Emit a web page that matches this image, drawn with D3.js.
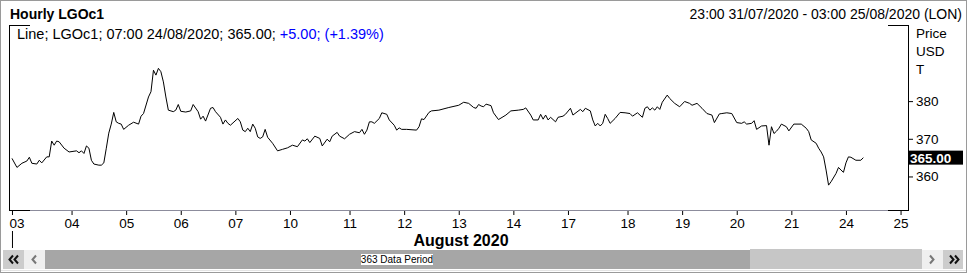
<!DOCTYPE html>
<html>
<head>
<meta charset="utf-8">
<script src="https://cdn.jsdelivr.net/npm/d3@7"></script>
<style>
  body { margin: 0; background: #fff; }
  svg { display: block; font-family: "Liberation Sans", Arial, sans-serif; }
</style>
</head>
<body>
<div id="chart"></div>
<script>
// data: hour index (trading hours from 23:00 31/07) and close price
var hours = [0,2,4,6,7,8,10,11,12,14,15,16,17,18,19,21,23,25,26,27,28,29,30,31,32,33,35,36,37,38,39,40,41,42,43,44,45,47,49,51,52,53,55,56,57,58,59,60,61,62,63,65,66,67,68,70,72,73,75,76,77,78,80,81,82,84,85,86,87,88,91,92,93,94,95,96,97,98,99,100,101,102,103,105,107,109,111,113,115,117,118,119,120,122,124,125,127,128,129,131,132,134,136,138,140,141,142,143,144,145,146,148,149,151,152,154,155,156,157,159,163,164,165,166,168,169,172,176,180,182,184,186,187,188,189,190,191,193,194,196,199,201,204,206,207,209,210,212,213,214,215,216,217,219,220,222,223,225,226,229,230,231,233,234,235,236,237,238,239,240,241,243,245,247,249,250,252,254,255,256,257,258,259,260,261,262,264,265,267,269,271,273,274,276,278,280,282,283,285,286,288,290,292,294,295,296,298,299,300,302,304,305,306,307,308,309,310,312,313,315,318,320,321,322,324,325,326,327,328,329,330,332,333,334,335,336,337,338,340,342,343];
var prices = [364.8,362.4,363.5,364.1,365.1,363.5,363.3,364.3,363.6,365.2,365.2,369.4,368.3,369.4,369.2,367.5,366.5,366.7,366.8,366.3,366.8,366.1,368.1,367.5,364.3,363.3,363.0,363.0,363.6,367.5,371.5,373.9,377.0,374.5,374.1,373.9,372.5,373.6,374.4,373.9,376.0,376.7,381.1,382.5,388.2,386.9,388.7,387.8,385.1,381.1,377.6,377.2,377.6,379.1,377.3,377.1,377.4,379.1,377.2,375.2,376.0,374.7,378.1,378.3,377.2,375.7,373.9,375.0,374.1,373.6,375.4,374.5,372.3,371.9,372.8,371.9,373.9,372.8,370.5,370.1,370.5,372.5,370.4,368.8,366.8,367.2,367.6,368.3,367.9,369.7,369.4,370.0,369.0,370.7,370.1,368.1,369.9,369.2,370.7,371.7,370.7,370.0,371.2,371.9,371.6,372.5,371.2,372.3,374.5,374.5,374.1,375.4,376.9,376.5,375.0,373.6,372.3,372.9,372.5,372.5,372.3,373.2,375.3,375.1,377.0,377.4,377.6,378.3,378.9,379.7,379.4,378.3,378.1,379.1,378.7,378.5,379.2,378.8,376.9,375.1,376.3,377.4,377.6,377.8,378.2,376.3,375.0,375.0,376.5,375.2,376.3,375.0,375.7,374.5,375.7,376.0,376.5,378.1,376.3,377.8,377.2,378.1,377.4,375.0,373.4,374.1,373.4,374.1,376.5,375.4,374.1,375.4,377.0,376.9,376.7,376.0,376.9,375.7,378.1,378.5,377.6,378.2,377.6,378.5,377.8,379.7,381.6,380.7,379.4,378.5,379.9,379.4,378.9,379.4,378.1,376.7,376.3,374.3,376.6,376.7,376.9,376.7,374.3,374.1,374.5,373.9,374.1,374.8,372.5,373.4,373.5,368.3,373.2,371.4,372.0,372.8,373.9,373.2,372.1,373.9,373.9,372.8,371.9,369.7,368.8,367.5,366.5,365.2,361.7,357.7,358.6,360.8,362.4,361.7,361.1,363.6,365.2,365.1,364.3,364.3,365.0];

// x axis: day labels and the hour index where each day starts
var dayLabels = ["03","04","05","06","07","10","11","12","13","14","17","18","19","20","21","24","25"];
var dayStarts = [0,24,46,68,90,112,136,158,180,202,224,248,270,292,314,336,358];
var priceTicks = [360, 370, 380];
var lastPrice = "365.00";

var W = 967, H = 273;
var plot = { left: 9, right: 908, top: 25, bottom: 210 };

var svg = d3.select("#chart").append("svg")
    .attr("width", W)
    .attr("height", H);

// outer frame
svg.append("rect")
    .attr("x", 0.5).attr("y", 0.5)
    .attr("width", W - 1).attr("height", H - 1)
    .attr("fill", "none").attr("stroke", "#9a9a9a");

// header
svg.append("text")
    .attr("x", 10).attr("y", 19)
    .style("font-size", "14px").style("font-weight", "bold")
    .text("Hourly LGOc1");

svg.append("text")
    .attr("x", 962).attr("y", 19)
    .style("font-size", "14px")
    .attr("text-anchor", "end")
    .text("23:00 31/07/2020 - 03:00 25/08/2020 (LON)");

// scales
var x = d3.scaleLinear().domain([-1.2, 361]).range([plot.left, plot.right]);
var y = d3.scaleLinear().domain([351.1, 400.2]).range([plot.bottom, plot.top]);

// plot frame: bottom grey line, side lines and corner marks
svg.append("line")
    .attr("x1", plot.left).attr("x2", plot.right)
    .attr("y1", plot.bottom + 0.5).attr("y2", plot.bottom + 0.5)
    .attr("stroke", "#8c8c9c");
var frame = svg.append("g").attr("stroke", "#000").attr("fill", "none");
frame.append("path").attr("d",
    "M" + (plot.left + 0.5) + "," + plot.top + "V" + (plot.bottom + 1) +
    "M" + (plot.right + 0.5) + "," + plot.top + "V" + (plot.bottom + 1) +
    "M" + plot.left + "," + (plot.top + 0.5) + "H30" +
    "M888," + (plot.top + 0.5) + "H" + (plot.right + 1) +
    "M" + plot.left + "," + (plot.bottom + 0.5) + "H30" +
    "M888," + (plot.bottom + 0.5) + "H" + (plot.right + 1));

// legend line
var legend = svg.append("text")
    .attr("x", 17).attr("y", 39)
    .style("font-size", "14.5px");
legend.append("tspan").text("Line; LGOc1; 07:00 24/08/2020; 365.00; ");
legend.append("tspan").attr("fill", "#0000ff").text("+5.00;");
legend.append("tspan").text(" ");
legend.append("tspan").attr("fill", "#0000ff").text("(+1.39%)");

// price line
var line = d3.line()
    .x(function(d, i) { return x(hours[i]); })
    .y(function(d) { return y(d); });

svg.append("path")
    .datum(prices)
    .attr("fill", "none")
    .attr("stroke", "#000")
    .attr("stroke-width", 1)
    .attr("d", line);

// y axis on the right
var yAxis = svg.append("g")
    .attr("transform", "translate(" + (plot.right + 1) + ",0)")
    .call(d3.axisRight(y).tickValues(priceTicks).tickSize(4).tickPadding(3));
yAxis.select(".domain").remove();
yAxis.selectAll("text").style("font-size", "13.5px").attr("fill", "#000");
yAxis.selectAll("line").attr("stroke", "#000");

["Price", "USD", "T"].forEach(function(t, i) {
    svg.append("text")
        .attr("x", 916).attr("y", 38 + i * 18)
        .style("font-size", "13.5px")
        .text(t);
});

// last price tag
svg.append("rect")
    .attr("x", 909).attr("y", y(365) - 7)
    .attr("width", 54).attr("height", 14)
    .attr("fill", "#000");
svg.append("text")
    .attr("x", 910).attr("y", y(365) + 5)
    .style("font-size", "13.5px").style("font-weight", "bold")
    .attr("fill", "#fff")
    .text(lastPrice);

// x axis with day labels
var xAxis = svg.append("g")
    .attr("transform", "translate(0," + (plot.bottom + 1) + ")")
    .call(d3.axisBottom(x).tickValues(dayStarts)
        .tickFormat(function(d, i) { return dayLabels[i]; })
        .tickSize(4).tickPadding(3));
xAxis.select(".domain").remove();
xAxis.selectAll("line").attr("stroke", "#000");
xAxis.selectAll("text").style("font-size", "13.5px").attr("fill", "#000");
// first label sits against the left edge
xAxis.selectAll("text").filter(function(d, i) { return i === 0; })
    .attr("text-anchor", "start").attr("x", plot.left - x(0));

// month marker
svg.append("line")
    .attr("x1", x(0) + 0.5).attr("x2", x(0) + 0.5)
    .attr("y1", 231).attr("y2", 248)
    .attr("stroke", "#000");

svg.append("text")
    .attr("x", 461).attr("y", 246)
    .attr("text-anchor", "middle")
    .style("font-size", "16px").style("font-weight", "bold")
    .text("August 2020");

// scroll bar
var sb = svg.append("g");
sb.append("rect").attr("x", 3).attr("y", 250).attr("width", 21).attr("height", 19).attr("fill", "#cccccc");
sb.append("rect").attr("x", 24).attr("y", 250).attr("width", 21).attr("height", 19).attr("fill", "#efefef");
sb.append("rect").attr("x", 45).attr("y", 250).attr("width", 705).attr("height", 19).attr("fill", "#a6a6a6");
sb.append("rect").attr("x", 750).attr("y", 249).attr("width", 172).attr("height", 20).attr("fill", "#c6c6c6");
sb.append("rect").attr("x", 922).attr("y", 250).attr("width", 21).attr("height", 19).attr("fill", "#efefef");
sb.append("rect").attr("x", 943).attr("y", 250).attr("width", 20).attr("height", 19).attr("fill", "#cccccc");
sb.append("line").attr("x1", 1).attr("x2", 966).attr("y1", 270.5).attr("y2", 270.5).attr("stroke", "#e4e4e4");

var chev = sb.append("g").attr("fill", "none").attr("stroke-width", 2);
chev.append("path").attr("d", "M13,255.5L9.5,259.5L13,263.5M18,255.5L14.5,259.5L18,263.5").attr("stroke", "#111");
chev.append("path").attr("d", "M36,255.5L32.5,259.5L36,263.5").attr("stroke", "#777");
chev.append("path").attr("d", "M930,255.5L933.5,259.5L930,263.5").attr("stroke", "#777");
chev.append("path").attr("d", "M950,255.5L953.5,259.5L950,263.5M955,255.5L958.5,259.5L955,263.5").attr("stroke", "#111");

sb.append("rect").attr("x", 361).attr("y", 254).attr("width", 72).attr("height", 11).attr("fill", "#fff");
sb.append("text")
    .attr("x", 397).attr("y", 263)
    .attr("text-anchor", "middle")
    .style("font-size", "10px")
    .text("363 Data Period");
</script>
</body>
</html>
